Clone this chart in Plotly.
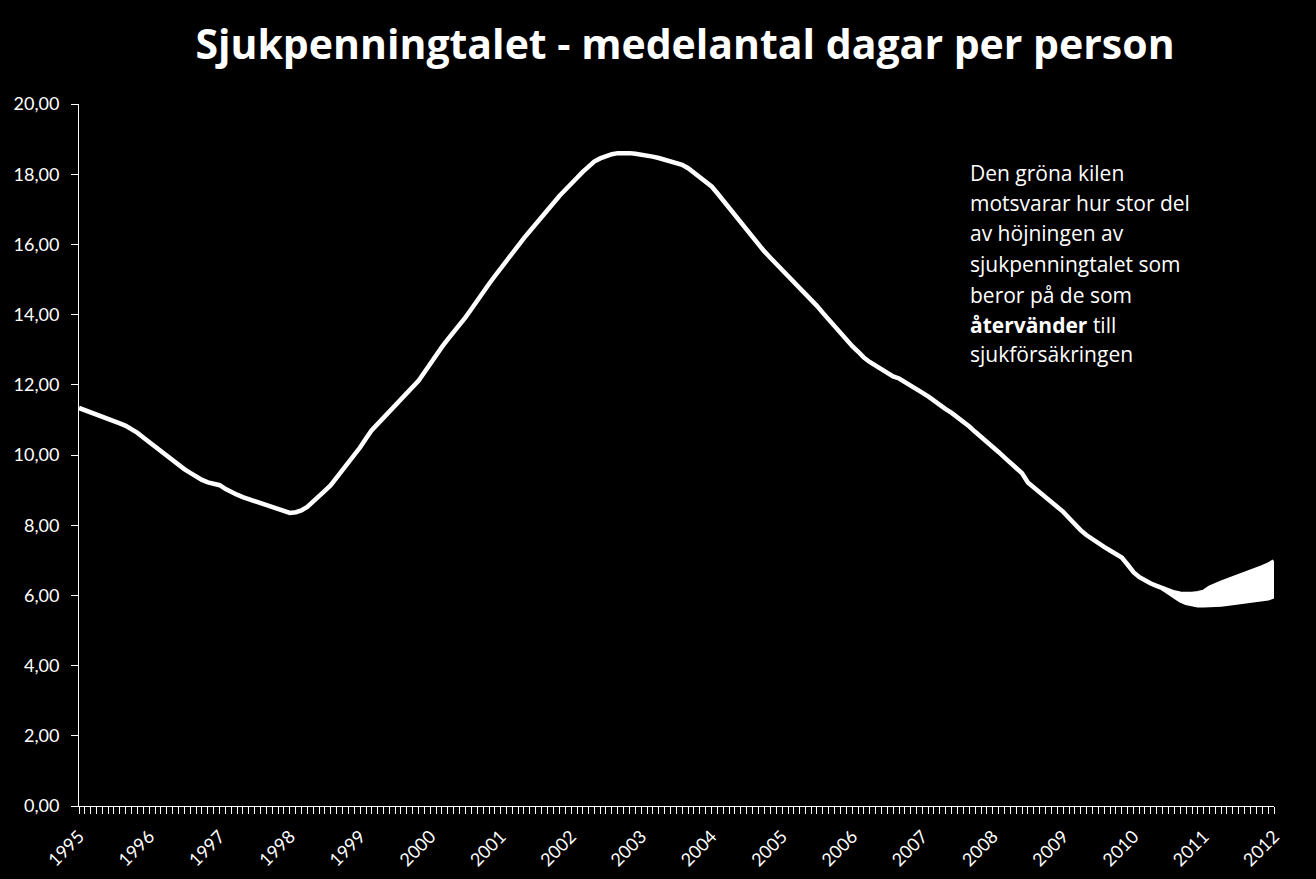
import pandas as pd
import plotly.graph_objects as go

# Monthly values, Jan 1995 .. Jan 2012
v1995 = [11.34, 11.28, 11.22, 11.16, 11.10, 11.04, 10.97, 10.90, 10.83, 10.74, 10.63, 10.50]
v1996 = [10.37, 10.24, 10.10, 9.96, 9.84, 9.73, 9.60, 9.49, 9.38, 9.29, 9.22, 9.18]
v1997 = [9.14, 9.03, 8.94, 8.87, 8.80, 8.74, 8.69, 8.64, 8.59, 8.53, 8.47, 8.40]
v1998 = [8.35, 8.37, 8.42, 8.52, 8.66, 8.82, 8.98, 9.14, 9.35, 9.58, 9.80, 10.00]
v1999 = [10.22, 10.48, 10.70, 10.88, 11.05, 11.22, 11.40, 11.60, 11.76, 11.92, 12.12, 12.36]
v2000 = [12.62, 12.86, 13.08, 13.30, 13.50, 13.70, 13.92, 14.16, 14.42, 14.66, 14.88, 15.10]
v2001 = [15.32, 15.54, 15.78, 15.98, 16.18, 16.38, 16.58, 16.80, 16.98, 17.18, 17.38, 17.55]
v2002 = [17.71, 17.90, 18.06, 18.22, 18.36, 18.45, 18.52, 18.57, 18.60, 18.61, 18.60, 18.58]
v2003 = [18.56, 18.53, 18.50, 18.46, 18.42, 18.38, 18.33, 18.27, 18.17, 18.05, 17.92, 17.80]
v2004 = [17.65, 17.45, 17.25, 17.05, 16.82, 16.60, 16.40, 16.18, 15.98, 15.80, 15.62, 15.45]
v2005 = [15.27, 15.12, 14.96, 14.80, 14.62, 14.45, 14.25, 14.05, 13.85, 13.65, 13.45, 13.28]
v2006 = [13.10, 12.94, 12.78, 12.65, 12.54, 12.43, 12.33, 12.24, 12.18, 12.07, 11.96, 11.86]
v2007 = [11.77, 11.66, 11.54, 11.43, 11.31, 11.20, 11.08, 10.95, 10.81, 10.66, 10.52, 10.38]
v2008 = [10.25, 10.08, 9.93, 9.78, 9.62, 9.48, 9.22, 9.08, 8.93, 8.78, 8.64, 8.52]
v2009 = [8.38, 8.20, 8.03, 7.86, 7.72, 7.60, 7.48, 7.38, 7.28, 7.18, 7.08, 6.88]
v2010 = [6.66, 6.52, 6.42, 6.34, 6.27, 6.20, 6.13, 6.08, 6.05, 6.04, 6.04, 6.06]
v2011 = [6.10, 6.22, 6.30, 6.36, 6.42, 6.48, 6.56, 6.62, 6.68, 6.74, 6.80, 6.87]
v2012 = [6.97]

# Counterfactual (lower edge of the wedge), Jun 2010 .. Jan 2012
lower_values = [6.20, 6.08, 5.95, 5.86, 5.79, 5.74, 5.72, 5.72, 5.72, 5.73,
                5.74, 5.76, 5.78, 5.80, 5.82, 5.84, 5.86, 5.89, 5.92, 5.98]

main_values = (v1995 + v1996 + v1997 + v1998 + v1999 + v2000 + v2001 + v2002 + v2003
               + v2004 + v2005 + v2006 + v2007 + v2008 + v2009 + v2010 + v2011 + v2012)
months = pd.date_range("1995-01-01", periods=len(main_values), freq="MS")
lower_months = months[-len(lower_values):]
upper_slice = main_values[-len(lower_values):]

title_text = "Sjukpenningtalet - medelantal dagar per person"
note_lines = ["Den gröna kilen", "motsvarar hur stor del", "av höjningen av",
              "sjukpenningtalet som", "beror på de som", "<b>återvänder</b> till",
              "sjukförsäkringen"]

fig = go.Figure()
fig.add_trace(go.Scatter(x=lower_months, y=upper_slice, mode="lines",
                         line=dict(color="white", width=0), showlegend=False, hoverinfo="skip"))
fig.add_trace(go.Scatter(x=lower_months, y=lower_values, mode="lines", fill="tonexty",
                         fillcolor="white", line=dict(color="white", width=4.5), showlegend=False))
fig.add_trace(go.Scatter(x=months, y=main_values, mode="lines",
                         line=dict(color="white", width=4.5), showlegend=False))

W, H = 1316, 879
L, R, T, B = 79, 42, 104, 73
plot_h = H - T - B
plot_w = W - L - R

line_y = [173, 203, 233, 264, 295, 325, 354]
for txt, yc in zip(note_lines, line_y):
    fig.add_annotation(text=txt, xref="paper", yref="paper",
                       x=(968 - L) / plot_w, y=(H - B - yc) / plot_h,
                       xanchor="left", yanchor="middle", showarrow=False,
                       font=dict(family="Open Sans", size=21, color="white"))

fig.update_layout(
    width=W, height=H,
    margin=dict(l=L, r=R, t=T, b=B, autoexpand=False),
    paper_bgcolor="black", plot_bgcolor="black",
    separators=", ",
    title=dict(text=f"<b>{title_text}</b>", x=685 / W, xanchor="center",
               y=1 - 45 / H, yanchor="middle", xref="container", yref="container",
               font=dict(family="Open Sans", size=41, color="white")),
    font=dict(family="Lato", color="white"),
)
fig.update_yaxes(range=[0, 20], dtick=2, tick0=0, tickformat=".2f", automargin=False,
                 showgrid=False, zeroline=False, showline=True, linecolor="white",
                 linewidth=1, ticks="outside", ticklen=7, tickcolor="white",
                 ticklabelstandoff=8,
                 tickfont=dict(family="Lato", size=18, color="white"))
fig.update_xaxes(type="date", range=["1995-01-01", "2012-01-01"], automargin=False,
                 dtick="M12", tick0="1995-01-01", tickformat="%Y", tickangle=-45,
                 showgrid=False, zeroline=False, showline=True, linecolor="white",
                 linewidth=1, ticks="outside", ticklen=7, tickcolor="white",
                 ticklabelstandoff=5,
                 tickfont=dict(family="Lato", size=18, color="white"),
                 minor=dict(dtick="M1", tick0="1995-01-01", ticks="outside",
                            ticklen=7, tickcolor="white", showgrid=False))

fig.write_html("out.html")
